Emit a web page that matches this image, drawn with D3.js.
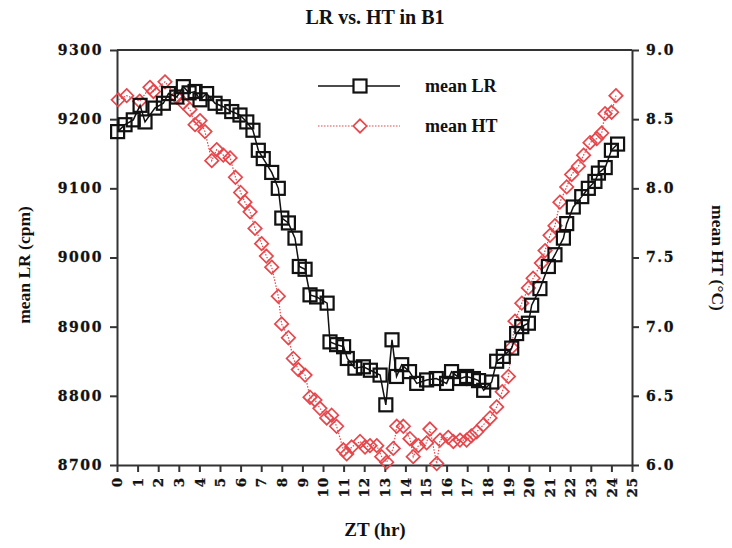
<!DOCTYPE html>
<html><head><meta charset="utf-8">
<script src="https://cdn.jsdelivr.net/npm/d3@7"></script>
<style>
body{margin:0;background:#fff;}
text{font-family:"Liberation Serif","DejaVu Serif",serif;font-weight:bold;fill:#111;}
.tick text{font-family:"DejaVu Serif",serif;font-weight:bold;stroke:#111;stroke-width:0.3px;}
</style></head>
<body><svg id="c" width="732" height="548"></svg>
<script>
// ZT hour of each LR sample and mean LR (cpm)
const lrHours = [0.03,0.39,0.79,1.12,1.36,1.84,2.25,2.5,2.9,3.22,3.5,3.79,4.03,4.35,4.76,5.16,5.57,5.97,6.3,6.6,6.86,7.1,7.51,7.83,8.0,8.32,8.64,8.85,9.13,9.37,9.69,10.2,10.34,10.66,11.0,11.18,11.55,11.96,12.3,12.77,13.05,13.35,13.57,13.82,14.2,14.55,15.03,15.5,16.0,16.24,16.65,16.97,17.3,17.55,17.8,18.19,18.43,18.75,19.16,19.4,19.65,19.97,20.13,20.53,20.94,21.26,21.67,21.83,22.15,22.56,22.88,23.2,23.37,23.7,24.0,24.3];
const lrValues = [9182,9192,9199,9220,9196,9216,9223,9237,9232,9247,9238,9240,9228,9237,9223,9218,9211,9206,9196,9184,9155,9143,9123,9100,9057,9050,9028,8987,8983,8946,8943,8934,8878,8874,8871,8854,8840,8842,8837,8830,8787,8881,8828,8845,8835,8818,8823,8825,8818,8835,8825,8828,8825,8822,8808,8820,8850,8857,8869,8890,8900,8905,8931,8955,8987,9004,9028,9049,9073,9088,9100,9110,9122,9130,9155,9164];
// ZT hour of each HT sample and mean HT (°C)
const htHours = [0.06,0.47,1.1,1.6,1.77,2.33,2.9,3.2,3.54,3.79,4.03,4.27,4.6,4.84,5.16,5.49,5.75,6.0,6.21,6.46,6.7,7.02,7.25,7.51,7.83,7.99,8.32,8.56,8.8,9.13,9.37,9.61,9.85,10.18,10.42,10.66,10.99,11.15,11.39,11.8,12.04,12.28,12.61,12.85,13.09,13.41,13.58,13.9,14.22,14.38,14.63,15.03,15.19,15.52,15.68,16.08,16.33,16.65,16.97,17.2,17.46,17.78,18.11,18.43,18.7,19.0,19.16,19.32,19.65,19.97,20.2,20.6,20.78,21.02,21.26,21.5,21.83,22.07,22.4,22.65,22.96,23.29,23.53,23.69,24.01,24.22];
const htValues = [8.64,8.67,8.63,8.73,8.70,8.77,8.66,8.62,8.57,8.46,8.49,8.41,8.20,8.28,8.24,8.22,8.08,7.97,7.90,7.83,7.71,7.60,7.51,7.43,7.22,7.02,6.92,6.77,6.69,6.65,6.49,6.47,6.41,6.34,6.36,6.28,6.11,6.08,6.13,6.17,6.13,6.14,6.14,6.06,6.02,6.12,6.28,6.28,6.19,6.06,6.14,6.16,6.26,6.01,6.18,6.20,6.17,6.18,6.18,6.21,6.24,6.29,6.34,6.42,6.53,6.64,6.85,7.04,7.17,7.28,7.35,7.46,7.55,7.66,7.73,7.90,8.01,8.10,8.16,8.24,8.33,8.36,8.40,8.54,8.55,8.67];
const xTicks = d3.range(0, 26);
const lrTicks = [8700,8800,8900,9000,9100,9200,9300];
const htTicks = [6.0,6.5,7.0,7.5,8.0,8.5,9.0];
const seriesNames = ["mean LR","mean HT"];

const svg = d3.select("#c");
const L = 117, R = 632, T = 50, B = 465;
const x = d3.scaleLinear().domain([0,25]).range([L,R]);
const yL = d3.scaleLinear().domain([8700,9300]).range([B,T]);
const yR = d3.scaleLinear().domain([6,9]).range([B,T]);
const axisCol = "#333";
const red = "#e5474c";

// top border
svg.append("line").attr("x1",L).attr("x2",R).attr("y1",T).attr("y2",T)
  .attr("stroke",axisCol).attr("stroke-width",2);

function styleAxis(g){
  g.selectAll("path,line").attr("stroke",axisCol).attr("stroke-width",2);
}
const gx = svg.append("g").attr("transform",`translate(0,${B})`)
  .call(d3.axisBottom(x).tickValues(xTicks).tickFormat(d3.format("d")).tickSize(7).tickSizeOuter(0));
styleAxis(gx);
gx.selectAll("text").attr("transform","rotate(-90)").attr("text-anchor","end")
  .attr("x",-12).attr("y",0).attr("dy","0.35em").style("font-size","13.5px").style("letter-spacing","0.8px");

const gl = svg.append("g").attr("transform",`translate(${L},0)`)
  .call(d3.axisLeft(yL).tickValues(lrTicks).tickFormat(d3.format("d")).tickSize(7).tickSizeOuter(0));
styleAxis(gl);
gl.selectAll("text").attr("x",-14).style("font-size","14px").style("letter-spacing","1.6px");

const gr = svg.append("g").attr("transform",`translate(${R},0)`)
  .call(d3.axisRight(yR).tickValues(htTicks).tickFormat(d3.format(".1f")).tickSize(7).tickSizeOuter(0));
styleAxis(gr);
gr.selectAll("text").attr("x",14).style("font-size","14px").style("letter-spacing","1.6px");

// HT series
const htData = htHours.map((h,i)=>[h,htValues[i]]);
svg.append("path").datum(htData)
  .attr("d", d3.line().x(d=>x(d[0])).y(d=>yR(d[1])))
  .attr("fill","none").attr("stroke",red).attr("stroke-width",1.2).attr("stroke-dasharray","1.5,1.5");
const diamond = d3.symbol().type(d3.symbolDiamond2).size(115);
svg.append("g").selectAll("path").data(htData).join("path")
  .attr("transform",d=>`translate(${x(d[0])},${yR(d[1])})`)
  .attr("d",diamond).attr("fill","none").attr("stroke",red).attr("stroke-width",1.7);

// LR series
const lrData = lrHours.map((h,i)=>[h,lrValues[i]]);
svg.append("path").datum(lrData)
  .attr("d", d3.line().x(d=>x(d[0])).y(d=>yL(d[1])))
  .attr("fill","none").attr("stroke","#111").attr("stroke-width",1.5);
const sq = 13;
svg.append("g").selectAll("rect").data(lrData).join("rect")
  .attr("x",d=>x(d[0])-sq/2).attr("y",d=>yL(d[1])-sq/2).attr("width",sq).attr("height",sq)
  .attr("fill","none").attr("stroke","#111").attr("stroke-width",2.2);

// legend
const lg = svg.append("g");
lg.append("line").attr("x1",318).attr("x2",400).attr("y1",86).attr("y2",86).attr("stroke","#111").attr("stroke-width",1.5);
lg.append("rect").attr("x",360-sq/2).attr("y",86-sq/2).attr("width",sq).attr("height",sq)
  .attr("fill","#fff").attr("stroke","#111").attr("stroke-width",2.2);
lg.append("line").attr("x1",318).attr("x2",400).attr("y1",126).attr("y2",126).attr("stroke",red).attr("stroke-width",1.2).attr("stroke-dasharray","1.5,1.5");
lg.append("path").attr("transform","translate(360,126)").attr("d",diamond).attr("fill","#fff").attr("stroke",red).attr("stroke-width",1.7);
lg.append("text").attr("x",425).attr("y",92).style("font-size","18px").text(seriesNames[0]);
lg.append("text").attr("x",425).attr("y",132).style("font-size","18px").text(seriesNames[1]);

// titles
svg.append("text").attr("x",375).attr("y",24).attr("text-anchor","middle").style("font-size","20px").text("LR vs. HT in B1");
svg.append("text").attr("x",375).attr("y",536).attr("text-anchor","middle").style("font-size","19px").text("ZT (hr)");
svg.append("text").attr("transform","translate(30,265) rotate(-90)").attr("text-anchor","middle").style("font-size","17.5px").text("mean LR (cpm)");
svg.append("text").attr("transform","translate(712,258) rotate(90)").attr("text-anchor","middle").style("font-size","17.5px").text("mean HT (°C)");
</script></body></html>
